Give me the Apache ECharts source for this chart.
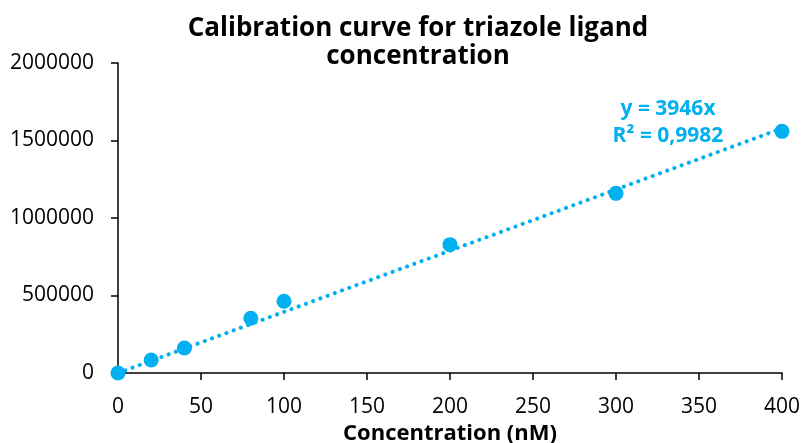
<!DOCTYPE html>
<html>
<head>
<meta charset="utf-8">
<script src="https://cdn.jsdelivr.net/npm/echarts@6/dist/echarts.min.js"></script>
<style>
  html, body { margin: 0; padding: 0; background: #fff; overflow: hidden; }
  #chart { width: 803px; height: 443px; }
</style>
</head>
<body>
<div id="chart"></div>
<script>
// Measured standards: concentration (nM) and detector response
const concentrations = [0, 20, 40, 80, 100, 200, 300, 400];
const responses = [0, 84000, 161000, 353000, 463000, 828000, 1159000, 1559000];

// Linear fit through the origin, as reported on the chart
const trendSlope = 3946;
const trendR2 = '0,9982';
const trendRange = [0, 400];

const xTicks = { min: 0, max: 400, interval: 50 };
const yTicks = { min: 0, max: 2000000, interval: 500000 };

const chartTitle = 'Calibration curve for triazole ligand\nconcentration';
const xAxisTitle = 'Concentration (nM)';

const BLUE = '#00B0F0';
const FONT = '"Open Sans", Lato, sans-serif';

const points = concentrations.map((c, i) => [c, responses[i]]);
const trendPoints = trendRange.map(x => [x, trendSlope * x]);

const chart = echarts.init(document.getElementById('chart'), null, { renderer: 'canvas', width: 803, height: 443 });

chart.setOption({
  animation: false,
  backgroundColor: '#ffffff',
  title: {
    text: chartTitle,
    left: 413,
    textAlign: 'center',
    top: 10,
    textStyle: {
      fontFamily: FONT, fontWeight: 'bold', fontSize: 26,
      lineHeight: 28, color: '#000'
    }
  },
  grid: { left: 118, right: 21, top: 63, bottom: 70, outerBoundsMode: 'none', containLabel: false },
  xAxis: {
    type: 'value',
    min: xTicks.min, max: xTicks.max, interval: xTicks.interval,
    name: xAxisTitle,
    nameLocation: 'middle',
    nameGap: 46,
    nameTextStyle: { fontFamily: FONT, fontWeight: 'bold', fontSize: 22, color: '#000' },
    axisLine: { lineStyle: { color: '#000', width: 1.5 } },
    axisTick: { show: true, inside: false, length: 7, lineStyle: { color: '#000', width: 1.5 } },
    axisLabel: { fontFamily: FONT, fontSize: 21, color: '#000', margin: 24 },
    splitLine: { show: false }
  },
  yAxis: {
    type: 'value',
    min: yTicks.min, max: yTicks.max, interval: yTicks.interval,
    axisLine: { show: true, lineStyle: { color: '#000', width: 1.5 } },
    axisTick: { show: true, inside: false, length: 7, lineStyle: { color: '#000', width: 1.5 } },
    axisLabel: { fontFamily: FONT, fontSize: 21, color: '#000', margin: 24, formatter: v => String(v) },
    splitLine: { show: false }
  },
  series: [
    {
      name: 'Linear fit',
      type: 'line',
      data: trendPoints,
      showSymbol: false,
      symbol: 'none',
      lineStyle: { color: BLUE, width: 4, type: [0.1, 7.6], cap: 'round' },
      z: 2,
      silent: true
    },
    {
      name: 'Standards',
      type: 'scatter',
      data: points,
      symbol: 'circle',
      symbolSize: 15,
      itemStyle: { color: BLUE, opacity: 1 },
      z: 3
    }
  ],
  graphic: [
    {
      type: 'text',
      x: 668, y: 109,
      style: {
        text: 'y = ' + trendSlope + 'x',
        fontFamily: FONT, fontWeight: 'bold', fontSize: 21,
        fill: BLUE, align: 'center', verticalAlign: 'middle'
      }
    },
    {
      type: 'text',
      x: 668, y: 136,
      style: {
        text: 'R² = ' + trendR2,
        fontFamily: FONT, fontWeight: 'bold', fontSize: 21,
        fill: BLUE, align: 'center', verticalAlign: 'middle'
      }
    }
  ]
});
</script>
</body>
</html>
